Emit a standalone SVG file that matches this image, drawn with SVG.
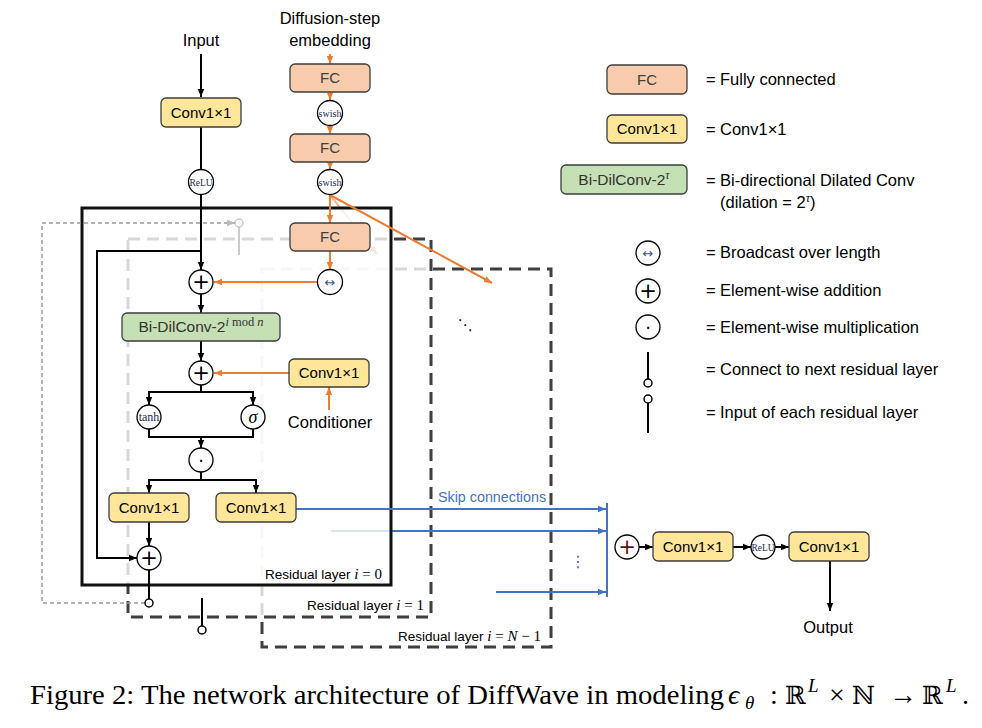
<svg xmlns="http://www.w3.org/2000/svg" width="982" height="728" viewBox="0 0 982 728">
<style>
.t{font-family:"Liberation Sans",Arial,sans-serif}
.m{font-family:"Liberation Serif","DejaVu Serif",serif}
.sym{font-family:"DejaVu Sans",sans-serif;text-anchor:middle;dominant-baseline:central}
.fc{fill:#F8CBAD;stroke:#3d3d3d;stroke-width:1.3}
.cv{fill:#FFE699;stroke:#3d3d3d;stroke-width:1.3}
.gr{fill:#C5E0B4;stroke:#3d3d3d;stroke-width:1.3}
.op{fill:#fff;stroke:#000;stroke-width:1.3}
.blk{fill:none;stroke:#000;stroke-width:2}
.org{fill:none;stroke:#ED7D31;stroke-width:2}
.blu{fill:none;stroke:#4472C4;stroke-width:2}
.lt{font-size:15px;text-anchor:middle}
.lg{font-size:16.5px}
.dash{fill:#fff;stroke:#3f3f3f;stroke-width:3;stroke-dasharray:12 7}
</style>
<defs>
<marker id="ak" viewBox="0 0 10 10" refX="10" refY="5" markerWidth="8" markerHeight="8" markerUnits="userSpaceOnUse" orient="auto"><path d="M0,1 L10,5 L0,9 z" fill="#000"/></marker>
<marker id="ao" viewBox="0 0 10 10" refX="10" refY="5" markerWidth="8" markerHeight="8" markerUnits="userSpaceOnUse" orient="auto"><path d="M0,1 L10,5 L0,9 z" fill="#ED7D31"/></marker>
<marker id="ab" viewBox="0 0 10 10" refX="10" refY="5" markerWidth="8" markerHeight="8" markerUnits="userSpaceOnUse" orient="auto"><path d="M0,1 L10,5 L0,9 z" fill="#4472C4"/></marker>
<marker id="ag" viewBox="0 0 10 10" refX="10" refY="5" markerWidth="8" markerHeight="8" markerUnits="userSpaceOnUse" orient="auto"><path d="M0,1 L10,5 L0,9 z" fill="#bbb"/></marker>
</defs>
<rect width="982" height="728" fill="#fff"/>

<!-- Residual layer N-1 (back) -->
<g id="layerN1">
<rect class="dash" x="262" y="269" width="289" height="378"/>
<path class="blu" d="M496,592 H606" marker-end="url(#ab)"/>
</g>

<!-- Residual layer 1 (middle, semi-transparent) -->
<g id="layer1">
<rect class="dash" x="128" y="239" width="303" height="378" fill-opacity="0.8"/>
<path class="blu" d="M331,531 H606" marker-end="url(#ab)"/>
<path d="M330,195 L377,254" fill="none" stroke="#ED7D31" stroke-width="2" stroke-opacity="0.6" marker-end="url(#ao)"/>
<circle cx="239" cy="223" r="4" fill="#fff" stroke="#000" stroke-width="1.5"/>
<path class="blk" d="M239,227 V255"/>
</g>

<!-- Residual layer 0 box (front) -->
<g id="layer0">
<rect x="82" y="208" width="309" height="377" fill="#fff" fill-opacity="0.8" stroke="#111" stroke-width="3"/>
</g>

<!-- connectors -->
<g id="connectors">
<path class="blk" d="M201,54 V97" marker-end="url(#ak)"/>
<path class="blk" d="M201,127 V169.5"/>
<path class="blk" d="M201,194.5 V270" marker-end="url(#ak)"/>
<path class="blk" d="M201,251 H97 V558 H137" marker-end="url(#ak)"/>
<path class="blk" d="M201,294 V313" marker-end="url(#ak)"/>
<path class="blk" d="M201,341 V361" marker-end="url(#ak)"/>
<path class="blk" d="M201,385 V392"/>
<path class="blk" d="M201,392 H149 V405" marker-end="url(#ak)"/>
<path class="blk" d="M201,392 H253 V405" marker-end="url(#ak)"/>
<path class="blk" d="M149,429 V437 H253 V429"/>
<path class="blk" d="M201,437 V448" marker-end="url(#ak)"/>
<path class="blk" d="M201,472 V480"/>
<path class="blk" d="M201,480 H149 V493" marker-end="url(#ak)"/>
<path class="blk" d="M201,480 H256 V493" marker-end="url(#ak)"/>
<path class="blk" d="M149,522 V546" marker-end="url(#ak)"/>
<path class="blk" d="M149,570 V599"/>
<path class="blk" d="M202,598 V626"/>
<path d="M145,603 H42 V223 H235" fill="none" stroke="#9a9a9a" stroke-width="1.5" stroke-dasharray="4 3" marker-end="url(#ag)"/>

<path class="org" d="M330,54 V64" marker-end="url(#ao)"/>
<path class="org" d="M330,92 V100.5" marker-end="url(#ao)"/>
<path class="org" d="M330,125.5 V134" marker-end="url(#ao)"/>
<path class="org" d="M330,162 V169.5" marker-end="url(#ao)"/>
<path class="org" d="M330,195 V223" marker-end="url(#ao)"/>
<path class="org" d="M330,251 V270" marker-end="url(#ao)"/>
<path class="org" d="M317.5,282 H214" marker-end="url(#ao)"/>
<path class="org" d="M289,373 H214" marker-end="url(#ao)"/>
<path class="org" d="M329,410 V387" marker-end="url(#ao)"/>
<path class="org" d="M330,195 L492,283" marker-end="url(#ao)"/>

<path class="blu" d="M296,509 H606" marker-end="url(#ab)"/>
<path class="blu" d="M607,503 V597"/>

<path class="blk" d="M639,547 H653" marker-end="url(#ak)"/>
<path class="blk" d="M733,547 H751" marker-end="url(#ak)"/>
<path class="blk" d="M775,547 H789" marker-end="url(#ak)"/>
<path class="blk" d="M830,561 V611" marker-end="url(#ak)"/>
</g>

<!-- nodes -->
<g id="input"><text class="t lg" x="201" y="46" text-anchor="middle">Input</text></g>
<g id="conv_in"><rect class="cv" x="161" y="98" width="80" height="29" rx="5"/><text class="t lt" x="201" y="118">Conv1×1</text></g>
<g id="relu_in"><circle class="op" cx="201" cy="182" r="12.5"/><text class="m" x="201" y="185.5" font-size="9.5" text-anchor="middle" fill="#1c2a50">ReLU</text></g>

<g id="diff_emb"><text class="t lg" x="330" y="24" text-anchor="middle">Diffusion-step</text><text class="t lg" x="330" y="46" text-anchor="middle">embedding</text></g>
<g id="fc1"><rect class="fc" x="290" y="64" width="80" height="28" rx="5"/><text class="t lt" x="330" y="83" fill="#404040">FC</text></g>
<g id="swish1"><circle class="op" cx="330" cy="113" r="12.5"/><text class="m" x="330" y="116.5" font-size="10" text-anchor="middle" fill="#1c2a50">swish</text></g>
<g id="fc2"><rect class="fc" x="290" y="134" width="80" height="28" rx="5"/><text class="t lt" x="330" y="153" fill="#404040">FC</text></g>
<g id="swish2"><circle class="op" cx="330" cy="182" r="12.5"/><text class="m" x="330" y="185.5" font-size="10" text-anchor="middle" fill="#1c2a50">swish</text></g>
<g id="fc3"><rect class="fc" x="290" y="223" width="80" height="28" rx="5"/><text class="t lt" x="330" y="242" fill="#404040">FC</text></g>
<g id="bcast"><circle class="op" cx="330" cy="282" r="12.5"/><text class="sym" x="330" y="282" font-size="13" fill="#3a5a80">↔</text></g>

<g id="add1"><circle class="op" cx="201" cy="282" r="12"/><text class="sym" x="201" y="282" font-size="21">+</text></g>
<g id="bidil"><rect class="gr" x="122" y="313" width="158" height="28" rx="5"/><text class="t" x="201" y="332" font-size="15.5" text-anchor="middle" fill="#333">Bi-DilConv-2<tspan class="m" dy="-6" font-size="12.5" font-style="italic">i</tspan><tspan class="m" font-size="12.5"> mod </tspan><tspan class="m" font-size="12.5" font-style="italic">n</tspan></text></g>
<g id="add2"><circle class="op" cx="201" cy="373" r="12"/><text class="sym" x="201" y="373" font-size="21">+</text></g>
<g id="cond_conv"><rect class="cv" x="289" y="359" width="80" height="28" rx="5"/><text class="t lt" x="329" y="378">Conv1×1</text></g>
<g id="conditioner"><text class="t lg" x="330" y="428" text-anchor="middle">Conditioner</text></g>
<g id="tanh"><circle class="op" cx="149" cy="417" r="12"/><text class="m" x="149" y="421" font-size="12" text-anchor="middle" fill="#1c2a50">tanh</text></g>
<g id="sigma"><circle class="op" cx="253" cy="417" r="12"/><text class="m" x="253" y="422.5" font-size="18" font-style="italic" text-anchor="middle">σ</text></g>
<g id="mul"><circle class="op" cx="201" cy="460" r="12"/><text class="sym" x="201" y="460" font-size="18">⋅</text></g>
<g id="conv_res"><rect class="cv" x="109" y="493" width="80" height="29" rx="5"/><text class="t lt" x="149" y="513">Conv1×1</text></g>
<g id="conv_skip"><rect class="cv" x="216" y="493" width="80" height="29" rx="5"/><text class="t lt" x="256" y="513">Conv1×1</text></g>
<g id="add3"><circle class="op" cx="149" cy="558" r="12"/><text class="sym" x="149" y="558" font-size="21">+</text></g>
<g id="out0"><circle cx="149" cy="603" r="4" fill="#fff" stroke="#000" stroke-width="1.5"/></g>
<g id="out1"><circle cx="202" cy="630" r="4" fill="#fff" stroke="#000" stroke-width="1.5"/></g>

<g id="labels">
<text class="t" x="265" y="579" font-size="13.5">Residual layer <tspan class="m" font-style="italic" font-size="15">i</tspan><tspan class="m" font-size="15"> = 0</tspan></text>
<text class="t" x="307" y="610" font-size="13.5">Residual layer <tspan class="m" font-style="italic" font-size="15">i</tspan><tspan class="m" font-size="15"> = 1</tspan></text>
<text class="t" x="398" y="641" font-size="13.5">Residual layer <tspan class="m" font-style="italic" font-size="15">i</tspan><tspan class="m" font-size="15"> = </tspan><tspan class="m" font-style="italic" font-size="15">N</tspan><tspan class="m" font-size="15"> − 1</tspan></text>
<text class="t" x="438" y="502" font-size="14.3" fill="#4472C4">Skip connections</text>
<text class="sym" x="465" y="325" font-size="15">⋱</text>
<text class="sym" x="578" y="561" font-size="16" fill="#5060c8">⋮</text>
</g>

<g id="add_out"><circle class="op" cx="627" cy="547" r="12"/><text class="sym" x="627" y="547" font-size="21" fill="#5a1010">+</text></g>
<g id="conv_out1"><rect class="cv" x="653" y="532" width="80" height="29" rx="5"/><text class="t lt" x="693" y="552">Conv1×1</text></g>
<g id="relu_out"><circle class="op" cx="763" cy="547" r="12"/><text class="m" x="763" y="550.5" font-size="9.5" text-anchor="middle" fill="#1c2a50">ReLU</text></g>
<g id="conv_out2"><rect class="cv" x="789" y="532" width="80" height="29" rx="5"/><text class="t lt" x="829" y="552">Conv1×1</text></g>
<g id="output"><text class="t lg" x="828" y="633" text-anchor="middle">Output</text></g>

<g id="legend">
<rect class="fc" x="607" y="65" width="80" height="29" rx="5"/><text class="t lt" x="647" y="85" fill="#404040">FC</text>
<text class="t lg" x="706" y="85">=</text><text class="t lg" x="720" y="85">Fully connected</text>
<rect class="cv" x="607" y="115" width="80" height="28" rx="5"/><text class="t lt" x="647" y="134">Conv1×1</text>
<text class="t lg" x="706" y="135">=</text><text class="t lg" x="720" y="135">Conv1×1</text>
<rect class="gr" x="561" y="165" width="126" height="29" rx="5"/><text class="t" x="624" y="185" font-size="15.5" text-anchor="middle" fill="#333">Bi-DilConv-2<tspan class="m" dy="-6" font-size="12" font-style="italic">τ</tspan></text>
<text class="t lg" x="706" y="186">=</text><text class="t lg" x="720" y="186">Bi-directional Dilated Conv</text>
<text class="t lg" x="720" y="208">(dilation = 2<tspan class="m" dy="-6" font-size="12" font-style="italic">τ</tspan><tspan dy="6">)</tspan></text>
<circle class="op" cx="648" cy="253" r="12"/><text class="sym" x="648" y="253" font-size="13" fill="#3a5a80">↔</text>
<text class="t lg" x="706" y="258">=</text><text class="t lg" x="720" y="258">Broadcast over length</text>
<circle class="op" cx="648" cy="291" r="12"/><text class="sym" x="648" y="291" font-size="21">+</text>
<text class="t lg" x="706" y="296">=</text><text class="t lg" x="720" y="296">Element-wise addition</text>
<circle class="op" cx="648" cy="327" r="12"/><text class="sym" x="648" y="327" font-size="18">⋅</text>
<text class="t lg" x="706" y="333">=</text><text class="t lg" x="720" y="333">Element-wise multiplication</text>
<path class="blk" d="M648,352 V379"/><circle cx="648" cy="383" r="4" fill="#fff" stroke="#000" stroke-width="1.5"/>
<text class="t lg" x="706" y="375">=</text><text class="t lg" x="720" y="375">Connect to next residual layer</text>
<circle cx="648" cy="399" r="4" fill="#fff" stroke="#000" stroke-width="1.5"/><path class="blk" d="M648,403 V433"/>
<text class="t lg" x="706" y="418">=</text><text class="t lg" x="720" y="418">Input of each residual layer</text>
</g>

<g id="caption" class="m" font-size="28">
<text x="30" y="704" textLength="694" lengthAdjust="spacingAndGlyphs">Figure 2: The network architecture of DiffWave in modeling</text>
<text x="728" y="704" font-style="italic">ϵ</text>
<text x="745" y="709" font-size="19" font-style="italic">θ</text>
<text x="770" y="704">:</text>
<text x="785" y="704" font-family="DejaVu Serif,serif" font-size="25">ℝ</text>
<text x="808" y="692" font-size="19" font-style="italic">L</text>
<text x="829" y="704">×</text>
<text x="852" y="704" font-family="DejaVu Serif,serif" font-size="25">ℕ</text>
<text x="889" y="704">→</text>
<text x="922" y="704" font-family="DejaVu Serif,serif" font-size="25">ℝ</text>
<text x="946" y="692" font-size="19" font-style="italic">L</text>
<text x="962" y="704">.</text>
</g>
</svg>
